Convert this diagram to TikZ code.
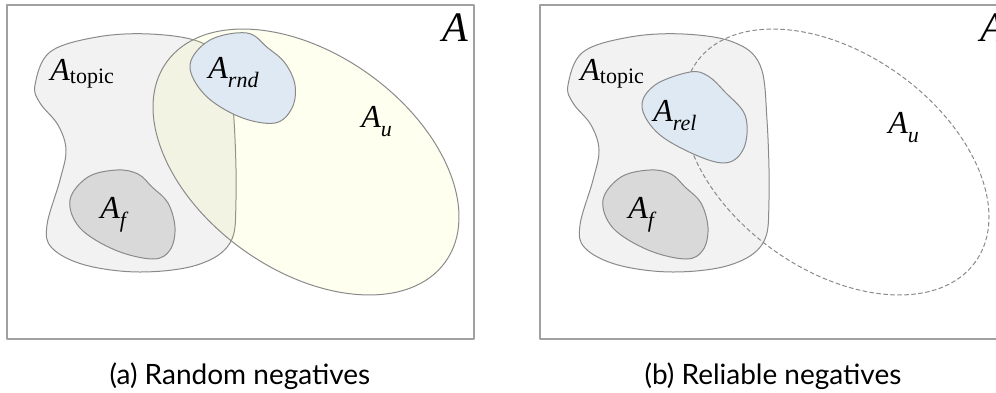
\documentclass[tikz,border=0pt]{standalone}
\usepackage{fontspec}
\newfontfamily\setfont{Liberation Serif}
\newfontfamily\capfont{Lato}

\definecolor{boxgray}{HTML}{A0A0A0}
\definecolor{setgray}{HTML}{8A8A8A}
\definecolor{topicfill}{HTML}{F2F2F2}
\definecolor{ffill}{HTML}{D9D9D9}
\definecolor{negfill}{HTML}{DFE9F3}
\definecolor{ufill}{HTML}{FFFF3C}

\tikzset{
  panel/.style={draw=boxgray, line width=0.6pt},
  setline/.style={draw=setgray, line width=0.5pt},
  topicset/.style={setline, fill=topicfill},
  fset/.style={setline, fill=ffill},
  negset/.style={setline, fill=negfill},
  uset/.style={setline, fill=ufill, fill opacity=0.077},
  udashed/.style={setline, dashed, dash pattern=on 2pt off 1.5pt},
  setlabel/.style={anchor=base west, inner sep=0pt, font=\setfont\fontsize{16}{18}\selectfont\itshape},
  biglabel/.style={anchor=base west, inner sep=0pt, font=\setfont\fontsize{21}{24}\selectfont\itshape},
  caption/.style={anchor=base, inner sep=0pt, font=\capfont\fontsize{14}{16}\selectfont},
}
\newcommand{\Asub}[2][0.3em]{A\raisebox{-#1}{\fontsize{11}{11}\selectfont #2}}

\begin{document}
\begin{tikzpicture}[x=0.5pt, y=-0.5pt, line cap=round, line join=round]
  \useasboundingbox (0,0) rectangle (996,392);
  \clip (0,0) rectangle (996,392);

  % (a) random negatives
  \draw[panel] (7,5) rectangle (474,339);
  \draw[topicset] plot[smooth cycle, tension=0.6] coordinates {(35,85) (50,52) (97,37) (150,34) (200,42) (227,65) (234,120) (236,200) (230,243) (197,265) (140,272) (85,265) (52,248) (47,225) (60,180) (66,150) (58,125) (40,103)};
  \draw[fset] plot[smooth cycle, tension=0.6] coordinates {(117,170) (88,177) (70,200) (80,228) (115,250) (153,259) (170,250) (175,228) (168,203) (152,187) (138,174)};
  \draw[uset, rotate around={-35.6:(306,162)}] (306,162) ellipse [x radius=171.5, y radius=108];
  \draw[negset] plot[smooth cycle, tension=0.6] coordinates {(247,33) (210,40) (190,65) (205,95) (240,117) (275,123) (292,108) (295,85) (285,63) (268,48)};

  \node[biglabel] (a-all) at (442,41) {A};
  \node[setlabel] (a-topic) at (50,80) {\Asub[0.12em]{\upshape topic}};
  \node[setlabel] (a-rnd) at (208,78) {\Asub{rnd}};
  \node[setlabel] (a-u) at (361,127) {\Asub{u}};
  \node[setlabel] (a-f) at (100,218) {\Asub{f}};

  % (b) reliable negatives
  \begin{scope}[shift={(533,0)}]
    \draw[panel] (7,5) rectangle (474,339);
    \draw[topicset] plot[smooth cycle, tension=0.6] coordinates {(35,85) (50,52) (97,37) (150,34) (200,42) (227,65) (234,120) (236,200) (230,243) (197,265) (140,272) (85,265) (52,248) (47,225) (60,180) (66,150) (58,125) (40,103)};
    \draw[fset] plot[smooth cycle, tension=0.6] coordinates {(117,170) (88,177) (70,200) (80,228) (115,250) (153,259) (170,250) (175,228) (168,203) (152,187) (138,174)};
    \draw[udashed, rotate around={-35.6:(303,162)}] (303,162) ellipse [x radius=171.5, y radius=108];
  \end{scope}
  \draw[negset] plot[smooth cycle, tension=0.6] coordinates {(690,72) (655,85) (642,107) (660,135) (703,158) (730,162) (745,145) (745,115) (725,92) (708,76)};

  \node[biglabel] (b-all) at (980,41) {A};
  \node[setlabel] (b-topic) at (580,80) {\Asub[0.12em]{\upshape topic}};
  \node[setlabel] (b-rel) at (653,121) {\Asub{rel}};
  \node[setlabel] (b-u) at (888,133) {\Asub{u}};
  \node[setlabel] (b-f) at (628,218) {\Asub{f}};

  \node[caption] (cap-a) at (240,384) {(a) Random negatives};
  \node[caption] (cap-b) at (773,384) {(b) Reliable negatives};
\end{tikzpicture}
\end{document}
